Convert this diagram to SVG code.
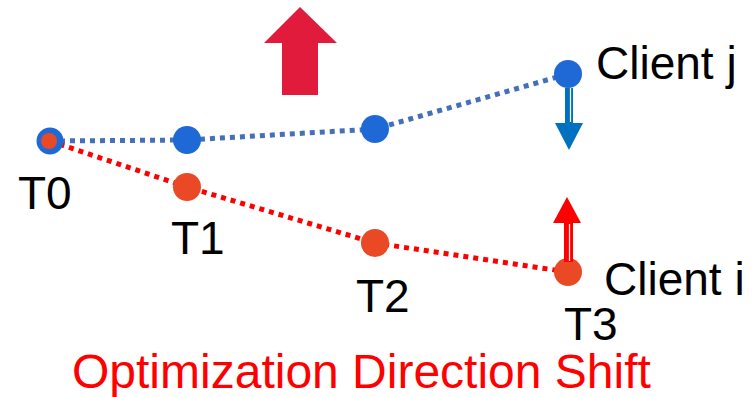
<svg xmlns="http://www.w3.org/2000/svg" width="754" height="397" viewBox="0 0 754 397">
<style>
.lbl{font-family:"Liberation Sans",Arial,sans-serif;font-size:46px;fill:#000}
.title{font-family:"Liberation Sans",Arial,sans-serif;font-size:48px;fill:#FF0000}
.bline{fill:none;stroke:#4470B8;stroke-width:5;stroke-dasharray:5 5}
.rline{fill:none;stroke:#FF0000;stroke-width:5;stroke-dasharray:5 5}
.bdot{fill:#1F69D6}
.rdot{fill:#E94A25}
</style>
<rect width="754" height="397" fill="#fff"/>
<g id="connectors">
<polyline class="bline" points="50,141 187,140 375,129 568,74"/>
<polyline class="rline" points="50,141 187,187 375,243 568,272"/>
</g>
<g id="bigArrow"><polygon points="300,7 337,43 318,43 318,95 282,95 282,43 264,43" fill="#E11B3B"/></g>
<g id="node-t0"><circle cx="50" cy="141" r="13.5" class="bdot"/><circle cx="49" cy="141" r="8" class="rdot"/><text class="lbl" x="18" y="209">T0</text></g>
<g id="node-b1"><circle cx="187" cy="140" r="14" class="bdot"/></g>
<g id="node-b2"><circle cx="375" cy="129" r="14" class="bdot"/></g>
<g id="node-clientj"><circle cx="568" cy="74" r="14" class="bdot"/><text class="lbl" x="596" y="79">Client j</text></g>
<g id="node-t1"><circle cx="187" cy="187" r="14" class="rdot"/><text class="lbl" x="171" y="254">T1</text></g>
<g id="node-t2"><circle cx="375" cy="243" r="14" class="rdot"/><text class="lbl" x="356" y="312">T2</text></g>
<g id="node-clienti"><circle cx="568" cy="272" r="14" class="rdot"/><text class="lbl" x="604" y="295">Client i</text><text class="lbl" x="564" y="340">T3</text></g>
<g id="blueArrow">
<rect x="565" y="88" width="8" height="36" fill="#0070C0"/>
<line x1="570.5" y1="88" x2="570.5" y2="122" stroke="#fff" stroke-width="1.2"/>
<polygon points="555,123 583,123 569,150" fill="#0070C0"/>
</g>
<g id="redArrow">
<rect x="564" y="222" width="9" height="40" fill="#FF0000"/>
<line x1="569.5" y1="224" x2="569.5" y2="261" stroke="#fff" stroke-width="1.2"/>
<polygon points="567,197 581,223 553,223" fill="#FF0000"/>
</g>
<text class="title" x="72" y="388">Optimization Direction Shift</text>
</svg>
